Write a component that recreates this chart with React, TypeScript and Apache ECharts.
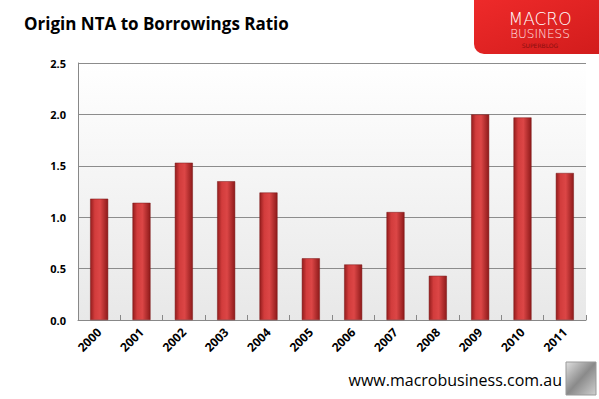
import React, { useEffect, useRef } from "react";
import * as echarts from "echarts";

const years = ["2000", "2001", "2002", "2003", "2004", "2005", "2006", "2007", "2008", "2009", "2010", "2011"];
const ratios = [1.18, 1.14, 1.53, 1.35, 1.24, 0.6, 0.54, 1.05, 0.43, 2.0, 1.97, 1.43];
const titleText = "Origin NTA to Borrowings Ratio";
const siteText = "www.macrobusiness.com.au";

export default function App() {
  const ref = useRef<HTMLDivElement>(null);
  useEffect(() => {
    const chart = echarts.init(ref.current!, null, { renderer: "svg" });
    const barColor = new echarts.graphic.LinearGradient(0, 0, 1, 0, [
      { offset: 0, color: "#941d1d" },
      { offset: 0.25, color: "#d23c3c" },
      { offset: 0.55, color: "#dc4646" },
      { offset: 1, color: "#8e1a1a" },
    ]);
    chart.setOption({
      animation: false,
      backgroundColor: "#ffffff",
      title: {
        text: titleText,
        left: 19,
        top: 10,
        textStyle: { fontFamily: "Open Sans", fontWeight: "bold", fontSize: 17, color: "#000" },
      },
      grid: {
        left: 78,
        top: 63,
        right: 13,
        bottom: 79,
        show: true,
        borderWidth: 0,
        backgroundColor: new echarts.graphic.LinearGradient(0, 0, 0, 1, [
          { offset: 0, color: "#ffffff" },
          { offset: 1, color: "#e8e8e8" },
        ]),
      },
      xAxis: {
        type: "category",
        data: years,
        axisLine: { lineStyle: { color: "#888", width: 1 } },
        axisTick: { show: true, inside: true, length: 5, lineStyle: { color: "#888" } },
        axisLabel: {
          rotate: 45,
          fontFamily: "Open Sans",
          fontWeight: "bold",
          fontSize: 12,
          color: "#000",
          margin: 10,
        },
      },
      yAxis: {
        type: "value",
        min: 0,
        max: 2.5,
        interval: 0.5,
        axisLine: { show: true, lineStyle: { color: "#888", width: 1 } },
        axisTick: { show: false },
        splitLine: { lineStyle: { color: "#8c8c8c", width: 1 } },
        axisLabel: {
          formatter: (v: number) => v.toFixed(1),
          fontFamily: "Open Sans",
          fontWeight: "bold",
          fontSize: 11,
          color: "#000",
          margin: 12,
        },
      },
      series: [
        {
          type: "bar",
          data: ratios,
          barWidth: 18,
          itemStyle: { color: barColor, borderColor: "#7a1616", borderWidth: 0.5 },
        },
      ],
      graphic: [
        {
          type: "rect",
          shape: { x: 474, y: 0, width: 125, height: 54, r: [0, 0, 0, 10] },
          style: {
            fill: new echarts.graphic.LinearGradient(0, 0, 1, 1, [
              { offset: 0, color: "#ee2a2a" },
              { offset: 1, color: "#d21c1c" },
            ]),
          },
          z: 10,
        },
        {
          type: "text",
          x: 540,
          y: 10,
          style: { text: "MACRO", fill: "#ffffff", font: "lighter 17px 'DejaVu Sans'", align: "center", verticalAlign: "top", lineHeight: 17 },
          z: 11,
        },
        {
          type: "text",
          x: 540,
          y: 28,
          style: { text: "BUSINESS", fill: "#ffe0e0", font: "lighter 12px 'DejaVu Sans'", align: "center", verticalAlign: "top", lineHeight: 12 },
          z: 11,
        },
        {
          type: "text",
          x: 540,
          y: 42,
          style: { text: "SUPERBLOG", fill: "#8a0f0f", font: "6px 'DejaVu Sans'", align: "center", verticalAlign: "top", lineHeight: 6 },
          z: 11,
        },
        {
          type: "text",
          x: 562,
          y: 372,
          style: { text: siteText, fill: "#000", font: "16px 'Open Sans'", align: "right" },
          z: 11,
        },
        {
          type: "rect",
          shape: { x: 566, y: 362, width: 30, height: 33 },
          style: {
            fill: new echarts.graphic.LinearGradient(0, 0, 1, 1, [
              { offset: 0, color: "#e0e0e0" },
              { offset: 0.5, color: "#8a8a8a" },
              { offset: 1, color: "#d0d0d0" },
            ]),
            stroke: "#999",
            lineWidth: 1,
          },
          z: 11,
        },
      ],
    });
    return () => chart.dispose();
  }, []);
  return <div ref={ref} style={{ width: 599, height: 399, position: "absolute", left: 0, top: 0 }} />;
}
